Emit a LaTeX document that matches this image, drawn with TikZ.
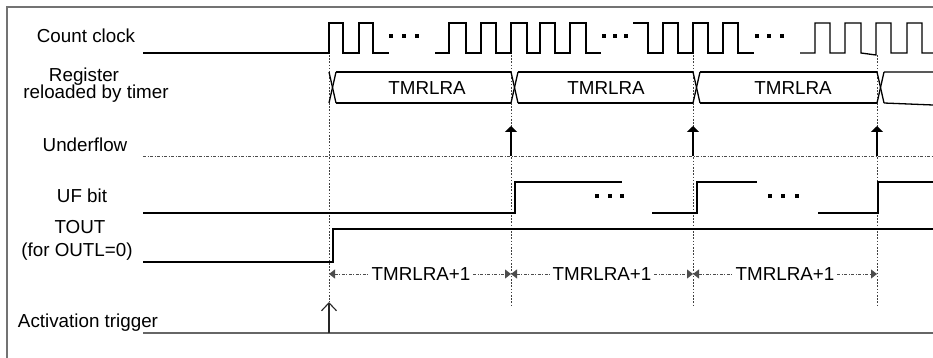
\documentclass[tikz,border=0pt]{standalone}
\usepackage{fontspec}
\setmainfont{Liberation Sans}
\usetikzlibrary{arrows.meta}
\begin{document}
\begin{tikzpicture}[x=1pt,y=-1pt,
  font=\fontsize{18.8}{20}\selectfont,
  lbl/.style={anchor=base,inner sep=0pt,outer sep=0pt},
  wave/.style={line width=1.3pt,black,line join=miter},
  frame/.style={line width=1.4pt,black!55},
  guide/.style={line width=0.9pt,black!75,dash pattern=on 1.6pt off 1.6pt},
  dashdot/.style={line width=0.9pt,black!70,dash pattern=on 3pt off 1.5pt on 1pt off 1.5pt},
  ufarrow/.style={line width=1.2pt,-{Triangle[length=6pt,width=12pt]}},
  measl/.style={dashdot,{Triangle[length=6pt,width=9pt]}-},
  measr/.style={dashdot,-{Triangle[length=6pt,width=9pt]}},
  dotmark/.style={fill=black,minimum size=4pt,inner sep=0pt,outer sep=0pt,draw=none},
]
\useasboundingbox (0,0) rectangle (933,358);

% frame
\draw[frame] (7,358) -- (7,7) -- (933,7);

% labels
\node[lbl] (lclk) at (86,43) {Count clock};
\node[lbl] (lreg1) at (84,82) {Register};
\node[lbl] (lreg2) at (96,99) {reloaded by timer};
\node[lbl] (luf) at (85,152) {Underflow};
\node[lbl] (lufb) at (82,202) {UF bit};
\node[lbl] (ltout1) at (80,233) {TOUT};
\node[lbl] (ltout2) at (77,256) {(for OUTL=0)};
\node[lbl] (lact) at (88,327) {Activation trigger};

% vertical guides
\draw[guide] (329,55) -- (329,302);
\draw[guide] (511,55) -- (511,307);
\draw[guide] (693,55) -- (693,307);
\draw[guide] (877,55) -- (877,307);

% count clock
\draw[wave] (143,53) -- (329,53) -- (329,23) -- (343,23) -- (343,53) -- (359,53) -- (359,23) -- (373,23) -- (373,53) -- (389,53);
\draw[wave] (435,53) -- (449,53) -- (449,23) -- (466,23) -- (466,53) -- (481,53) -- (481,23) -- (496,23) -- (496,53) -- (511,53) -- (511,23) -- (527,23) -- (527,53) -- (540,53) -- (540,23) -- (555,23) -- (555,53) -- (570,53) -- (570,23) -- (586,23) -- (586,53) -- (601,53);
\draw[wave] (633,23) -- (648,23) -- (648,53) -- (663,53) -- (663,23) -- (678,23) -- (678,53) -- (693,53) -- (693,23) -- (708,23) -- (708,53) -- (723,53) -- (723,23) -- (738,23) -- (738,53) -- (754,53);
\draw[wave] (800,53) -- (815,53) -- (815,23) -- (830,23) -- (830,53) -- (845,53) -- (845,23) -- (861,23) -- (861,53) -- (876,55) -- (876,23) -- (891,23) -- (891,53) -- (907,53) -- (907,23) -- (922,23) -- (922,53) -- (933,53);
\foreach \x in {391,404,417,604,615,626,757,769,782}
  \node[dotmark] at (\x,36) {};

% register bus
\foreach \a/\b in {329/336,511/518,693/700,877/884}{
  \draw[wave] (\a,72) -- (\b,103);
  \draw[wave] (\a,103) -- (\b,72);
}
\draw[wave] (336,72) -- (511,72) (336,103) -- (511,103);
\draw[wave] (518,72) -- (693,72) (518,103) -- (693,103);
\draw[wave] (700,72) -- (877,72) (700,103) -- (877,103);
\draw[wave] (884,72) -- (933,72) (884,103) -- (933,105);
\node[lbl] (r1) at (427,95) {TMRLRA};
\node[lbl] (r2) at (606,95) {TMRLRA};
\node[lbl] (r3) at (793,95) {TMRLRA};

% underflow
\draw[dashdot] (143,156) -- (933,156);
\foreach \x in {511,693,877}
  \draw[ufarrow] (\x,156) -- (\x,126);

% UF bit
\draw[wave] (143,213) -- (515,213) -- (515,182) -- (622,182);
\draw[wave] (652,213) -- (697,213) -- (697,182) -- (757,182);
\draw[wave] (818,213) -- (878,213) -- (878,182) -- (933,182);
\foreach \x in {597,610,622,770,783,797}
  \node[dotmark] at (\x,196) {};

% TOUT
\draw[wave] (143,262) -- (333,262) -- (333,229) -- (933,229);

% measurement
\node[lbl] (m1) at (421,280) {TMRLRA+1};
\node[lbl] (m2) at (602,280) {TMRLRA+1};
\node[lbl] (m3) at (785,280) {TMRLRA+1};
\coordinate (ma) at (329,274);
\coordinate (mb) at (511,274);
\coordinate (mc) at (693,274);
\coordinate (md) at (877,274);
\draw[measl] (ma) -- ([xshift=-3pt]m1.west |- ma);
\draw[measr] ([xshift=3pt]m1.east |- ma) -- (mb);
\draw[measl] (mb) -- ([xshift=-3pt]m2.west |- mb);
\draw[measr] ([xshift=3pt]m2.east |- mb) -- (mc);
\draw[measl] (mc) -- ([xshift=-3pt]m3.west |- mc);
\draw[measr] ([xshift=3pt]m3.east |- mc) -- (md);

% activation trigger
\draw[line width=1.4pt,black!60] (143,333) -- (933,333);
\draw[line width=1.1pt,black!85,-{Straight Barb[length=8pt,width=15pt]}] (329,333) -- (329,302);
\end{tikzpicture}
\end{document}
